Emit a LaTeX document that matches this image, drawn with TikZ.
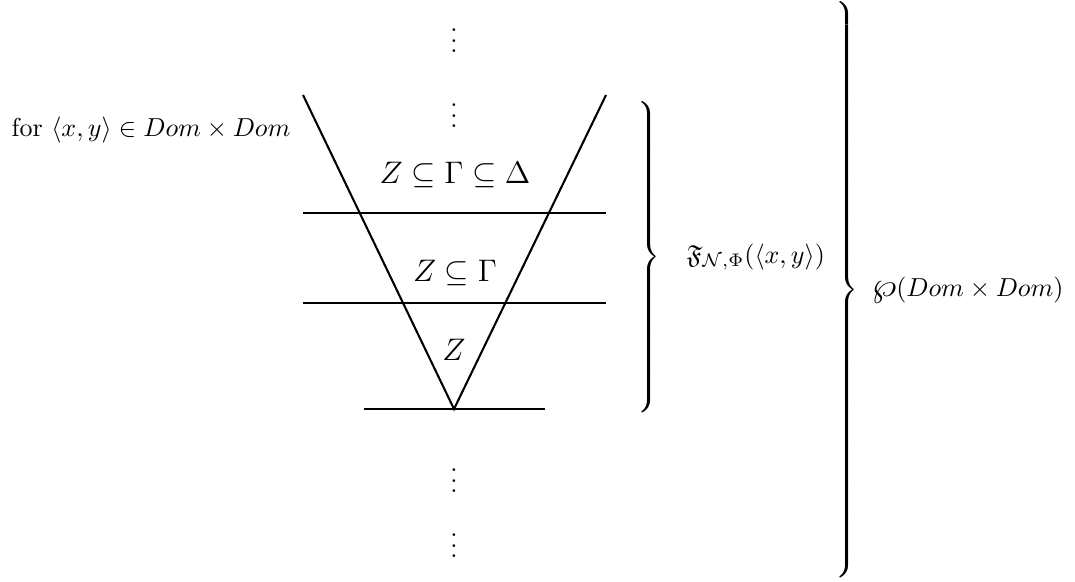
\documentclass[tikz,border=0pt]{standalone}
\usepackage{amsmath,amssymb,graphicx}
\usetikzlibrary{calc}
\newcommand{\bracebox}[1]{$\delimiterfactor=1000\delimitershortfall=0pt\left.\vcenter{\hrule height #1 width 0pt}\right\}$}
\begin{document}
\begin{tikzpicture}[x=0.385pt,y=-0.385pt,
  lbl/.style={inner sep=0pt},
  biglbl/.style={inner sep=0pt,font=\large},
  vline/.style={thick},
  hline/.style={line width=0.45pt},
  bracenode/.style={inner sep=0pt,anchor=east}]
\useasboundingbox (0,0) rectangle (1075,581);
% V shape
\coordinate (vl) at (303,95);
\coordinate (vb) at (454,409);
\coordinate (vr) at (606,95);
\draw[vline] (vl) -- (vb) -- (vr);
% horizontal lines
\coordinate (h1a) at (303,213); \coordinate (h1b) at (606,213);
\coordinate (h2a) at (303,303); \coordinate (h2b) at (606,303);
\coordinate (h3a) at (364,409); \coordinate (h3b) at (545,409);
\draw[hline] (h1a) -- (h1b);
\draw[hline] (h2a) -- (h2b);
\draw[hline] (h3a) -- (h3b);
% dots
\node[lbl] (d1) at (454,33) {$\vdots$};
\node[lbl] (d2) at (454,108) {$\vdots$};
\node[lbl] (d3) at (454,473) {$\vdots$};
\node[lbl] (d4) at (454,538) {$\vdots$};
% labels
\node[biglbl] (t1) at (455,175) {$Z\subseteq\Gamma\subseteq\Delta$};
\node[biglbl] (t2) at (455,273) {$Z\subseteq\Gamma$};
\node[biglbl] (t3) at (454,350) {$Z$};
\node[lbl] (for) at (151,130) {for $\langle x,y\rangle\in Dom\times Dom$};
% braces
\node[bracenode] (b1) at (661,257) {\bracebox{117pt}};
\node[bracenode] (b2) at (859,290) {\bracebox{219pt}};
\node[lbl,anchor=west] (f) at (686,257) {$\mathfrak{F}_{\mathcal{N},\Phi}(\langle x,y\rangle)$};
\node[lbl,anchor=west] (p) at (871,290) {\scalebox{1.5}[1.3]{$\wp$}$(Dom\times Dom)$};
\end{tikzpicture}
\end{document}
